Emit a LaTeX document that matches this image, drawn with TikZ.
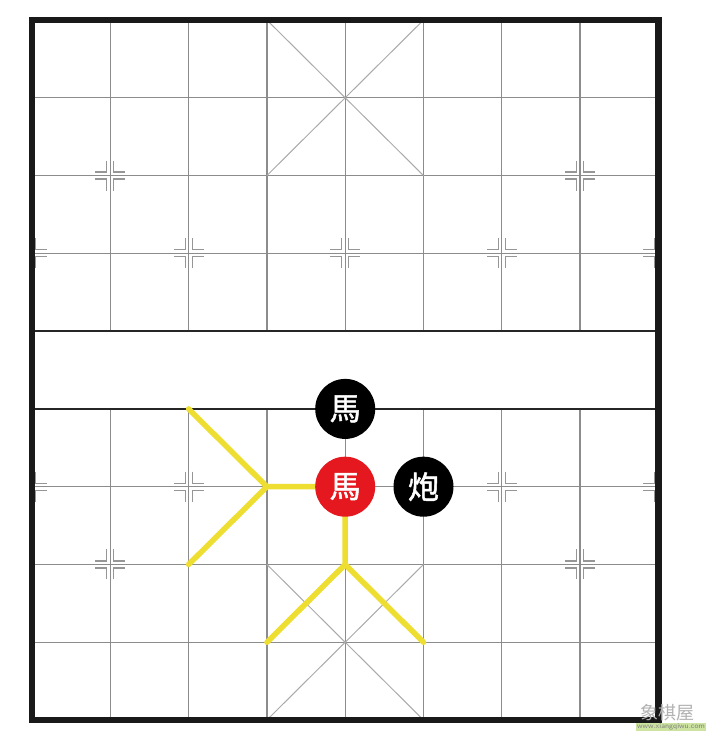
\documentclass[tikz,border=0pt]{standalone}
\usepackage{fontspec}
\newfontfamily\cjk{Noto Sans CJK SC}
\newfontfamily\cjkb[FakeBold=1.6]{Noto Sans CJK SC}
\definecolor{gridgray}{RGB}{140,140,140}
\definecolor{diaggray}{RGB}{170,170,170}
\definecolor{markgray}{RGB}{150,150,150}
\definecolor{yel}{RGB}{238,222,50}
\definecolor{piecered}{RGB}{228,24,30}
\definecolor{wmgreen}{RGB}{205,228,160}
\tikzset{
  gridline/.style={draw=gridgray, line width=1.3pt},
  riverline/.style={draw=black!85, line width=2.6pt},
  diagline/.style={draw=diaggray, line width=1pt},
  borderline/.style={draw=black!90, line width=6.5pt},
  markline/.style={draw=markgray, line width=1.2pt},
  yelline/.style={draw=yel, line width=5.5pt, line join=round, line cap=round},
  piece/.style={circle, minimum size=60pt, inner sep=0pt, text=white,
    font=\cjkb\fontsize{31}{31}\selectfont},
  markR/.pic={\draw[markline] (3.5,-15) -- (3.5,-3.5) -- (15,-3.5) (3.5,15) -- (3.5,3.5) -- (15,3.5);},
  markL/.pic={\draw[markline] (-3.5,-15) -- (-3.5,-3.5) -- (-15,-3.5) (-3.5,15) -- (-3.5,3.5) -- (-15,3.5);},
  markF/.pic={\pic{markR}; \pic{markL};}
}
\begin{document}
\begin{tikzpicture}[x=1pt,y=-1pt]
\useasboundingbox[fill=white] (0,0) rectangle (720,747);
\foreach \i in {0,...,8}{
  \foreach \j in {0,...,9}{
    \coordinate (p\i-\j) at ({32+78.3*\i},{20+77.78*\j});
  }
}
% grid
\foreach \j in {1,2,3,6,7,8}{\draw[gridline] (p0-\j) -- (p8-\j);}
\foreach \i in {1,...,7}{
  \draw[gridline] (p\i-0) -- (p\i-4);
  \draw[gridline] (p\i-5) -- (p\i-9);
}
% palaces
\draw[diagline] (p3-0) -- (p5-2) (p5-0) -- (p3-2);
\draw[diagline] (p3-7) -- (p5-9) (p5-7) -- (p3-9);
% river
\draw[riverline] (p0-4) -- (p8-4);
\draw[riverline] (p0-5) -- (p8-5);
% position markers
\pic at (p1-2) {markF};
\pic at (p7-2) {markF};
\pic at (p1-7) {markF};
\pic at (p7-7) {markF};
\foreach \i in {2,4,6}{
  \pic at (p\i-3) {markF};
}
\foreach \i in {2,6}{
  \pic at (p\i-6) {markF};
}
\pic at (p0-3) {markR};
\pic at (p0-6) {markR};
\pic at (p8-3) {markL};
\pic at (p8-6) {markL};
% border
\draw[borderline] (p0-0) rectangle (p8-9);
% horse moves
\draw[yelline] (p4-6) -- (p3-6) (p2-5) -- (p3-6) -- (p2-7);
\draw[yelline] (p4-6) -- (p4-7) (p3-8) -- (p4-7) -- (p5-8);
% pieces
\node[piece, fill=black] (bh) at (p4-5) {馬};
\node[piece, fill=piecered] (rh) at (p4-6) {馬};
\node[piece, fill=black] (bc) at (p5-6) {炮};
% watermark
\node[text=black!30, font=\cjk\fontsize{18}{18}\selectfont, inner sep=0pt] (wm) at (667,713) {象棋屋};
\node[fill=wmgreen, text=black!50, font=\sffamily\fontsize{7.5}{7.5}\selectfont, inner sep=1pt] (url) at (671,727) {www.xiangqiwu.com};
\end{tikzpicture}
\end{document}
